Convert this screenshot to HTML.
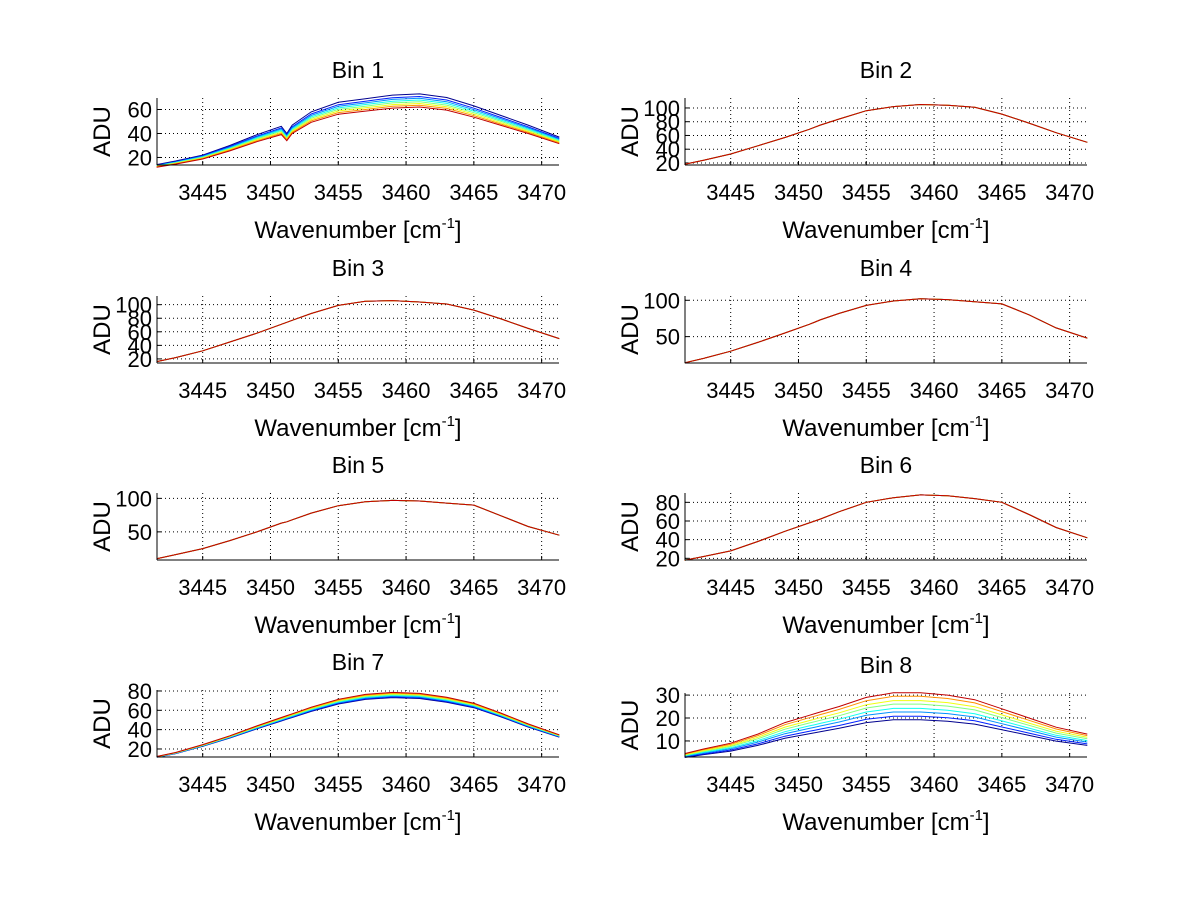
<!DOCTYPE html>
<html><head><meta charset="utf-8"><style>
body{margin:0;background:#fff}
svg{display:block;font-family:"Liberation Sans",sans-serif}
</style></head><body>
<svg id="fig" width="1200" height="901" viewBox="0 0 1200 901" xmlns="http://www.w3.org/2000/svg">
<rect width="1200" height="901" fill="#fff"/>
</svg>
<script>
const xs = [3441.6,3443,3445,3447,3449,3450.8,3451.2,3451.6,3453,3455,3457,3459,3461,3463,3465,3467,3469,3471.3];
const xTicks = [3445,3450,3455,3460,3465,3470];
const bin1 = [14,17,22,30,39,46,40,47,58,66,69,72,73,70,63,55,47,37];
const bin2 = [18,24,33,45,57,69,72,75,84,96,102,105,104,101,91,78,64,50];
const bin3 = [16,22,32,45,58,71,74,77,87,99,105,106,104,101,92,79,65,50];
const bin4 = [14,20,30,42,55,67,70,73,82,93,99,102,101,98,95,80,62,48];
const bin5 = [10,16,25,37,50,63,65,68,78,89,95,97,96,93,90,74,58,45];
const bin6 = [18,22,28,38,49,58,60,62,70,80,85,88,87,84,80,67,53,42];
const bin7 = [12,16,24,33,43,51.5,53.5,55.3,62,70,75,77,76,72,66,56,45,34];
const bin8 = [4.5,6.5,9,13,18,21.2,21.9,22.6,25,29,31,31,30,28,24,20,16,13];
const bin1Scales = [1.0,0.97,0.95,0.93,0.91,0.89,0.87,0.85];
const bin7Scales = [0.95,0.96,0.97,0.98,0.99,1.0,1.01,1.02];
const bin8Scales = [0.62,0.67,0.73,0.78,0.84,0.89,0.95,1.0];
const flatScales = [1,1,1,1,1,1,1,1];
const jet = ['#00008f','#0020ff','#0090ff','#10ffef','#80ff80','#efff10','#ff9000','#c00000'];

const panels = [
 {name:'Bin 1',x0:157,x1:559,y0:98,y1:165,ymin:13.7,ymax:69.6,yt:[20,40,60],data:bin1,sc:bin1Scales},
 {name:'Bin 2',x0:685,x1:1087,y0:98,y1:165,ymin:17,ymax:114.5,yt:[20,40,60,80,100],data:bin2,sc:flatScales},
 {name:'Bin 3',x0:157,x1:559,y0:296,y1:363,ymin:14,ymax:112.8,yt:[20,40,60,80,100],data:bin3,sc:flatScales},
 {name:'Bin 4',x0:685,x1:1087,y0:296,y1:363,ymin:13.7,ymax:105.9,yt:[50,100],data:bin4,sc:flatScales},
 {name:'Bin 5',x0:157,x1:559,y0:493,y1:560,ymin:8,ymax:108,yt:[50,100],data:bin5,sc:flatScales},
 {name:'Bin 6',x0:685,x1:1087,y0:493,y1:560,ymin:18.2,ymax:90,yt:[20,40,60,80],data:bin6,sc:flatScales},
 {name:'Bin 7',x0:157,x1:559,y0:690,y1:757,ymin:11.7,ymax:81,yt:[20,40,60,80],data:bin7,sc:bin7Scales},
 {name:'Bin 8',x0:685,x1:1087,y0:693,y1:757,ymin:3.0,ymax:30.9,yt:[10,20,30],data:bin8,sc:bin8Scales}
];
const XMIN=3441.63, XMAX=3471.28;
const NS='http://www.w3.org/2000/svg';
const svg=document.getElementById('fig');
function mk(tag,attrs,parent){const e=document.createElementNS(NS,tag);for(const k in attrs)e.setAttribute(k,attrs[k]);(parent||svg).appendChild(e);return e;}

panels.forEach((p,i)=>{
 const g=mk('g',{});
 
 
 const sx=v=>p.x0+(v-XMIN)/(XMAX-XMIN)*(p.x1-p.x0);
 const sy=v=>p.y1-(v-p.ymin)/(p.ymax-p.ymin)*(p.y1-p.y0);
 xTicks.forEach(t=>{
  const l=mk('line',{x1:sx(t),x2:sx(t),y1:p.y0,y2:p.y1,stroke:'#000','stroke-width':1,'stroke-dasharray':'1,3'},g);
  
  
  mk('line',{x1:sx(t),x2:sx(t),y1:p.y1,y2:p.y1-4,stroke:'#000'},g);
  const tx=mk('text',{x:sx(t),y:p.y1+35,'font-size':22,'text-anchor':'middle'},g);
  tx.textContent=t;
  
  
 });
 p.yt.forEach(t=>{
  const l=mk('line',{x1:p.x0,x2:p.x1,y1:sy(t),y2:sy(t),stroke:'#000','stroke-width':1,'stroke-dasharray':'1,3'},g);
  
  
  mk('line',{x1:p.x0,x2:p.x0+4,y1:sy(t),y2:sy(t),stroke:'#000'},g);
  const tx=mk('text',{x:p.x0-5,y:sy(t)+8,'font-size':22,'text-anchor':'end'},g);
  tx.textContent=t;
  
  
 });
 p.sc.forEach((s,k)=>{
  let d='';
  xs.forEach((x,j)=>{
   const v=p.data[j]*s;
   d+=(j?'L':'M')+sx(x).toFixed(1)+','+sy(v).toFixed(1);
  });
  const path=mk('path',{d:d,fill:'none',stroke:jet[k],'stroke-width':1},g);
  
  
 });
 mk('line',{x1:p.x0,x2:p.x1,y1:p.y1,y2:p.y1,stroke:'#000'},g);
 mk('line',{x1:p.x0,x2:p.x0,y1:p.y0,y2:p.y1,stroke:'#000'},g);
 const cx=(p.x0+p.x1)/2;
 const title=mk('text',{x:cx,y:p.y0-20,'font-size':23,'text-anchor':'middle'},g);
 title.textContent=p.name;
 
 
 const xl=mk('text',{x:cx,y:p.y1+73,'font-size':24,'text-anchor':'middle'},g);
 xl.innerHTML='Wavenumber [cm<tspan dy="-10" font-size="15">-1</tspan><tspan dy="10">]</tspan>';
 
 
 const ymid=(p.y0+p.y1)/2;
 const yl=mk('text',{x:p.x0-47,y:ymid,'font-size':24,'text-anchor':'middle',transform:'rotate(-90 '+(p.x0-47)+' '+ymid+')'},g);
 yl.textContent='ADU';
 
 
});
</script>
</body></html>
